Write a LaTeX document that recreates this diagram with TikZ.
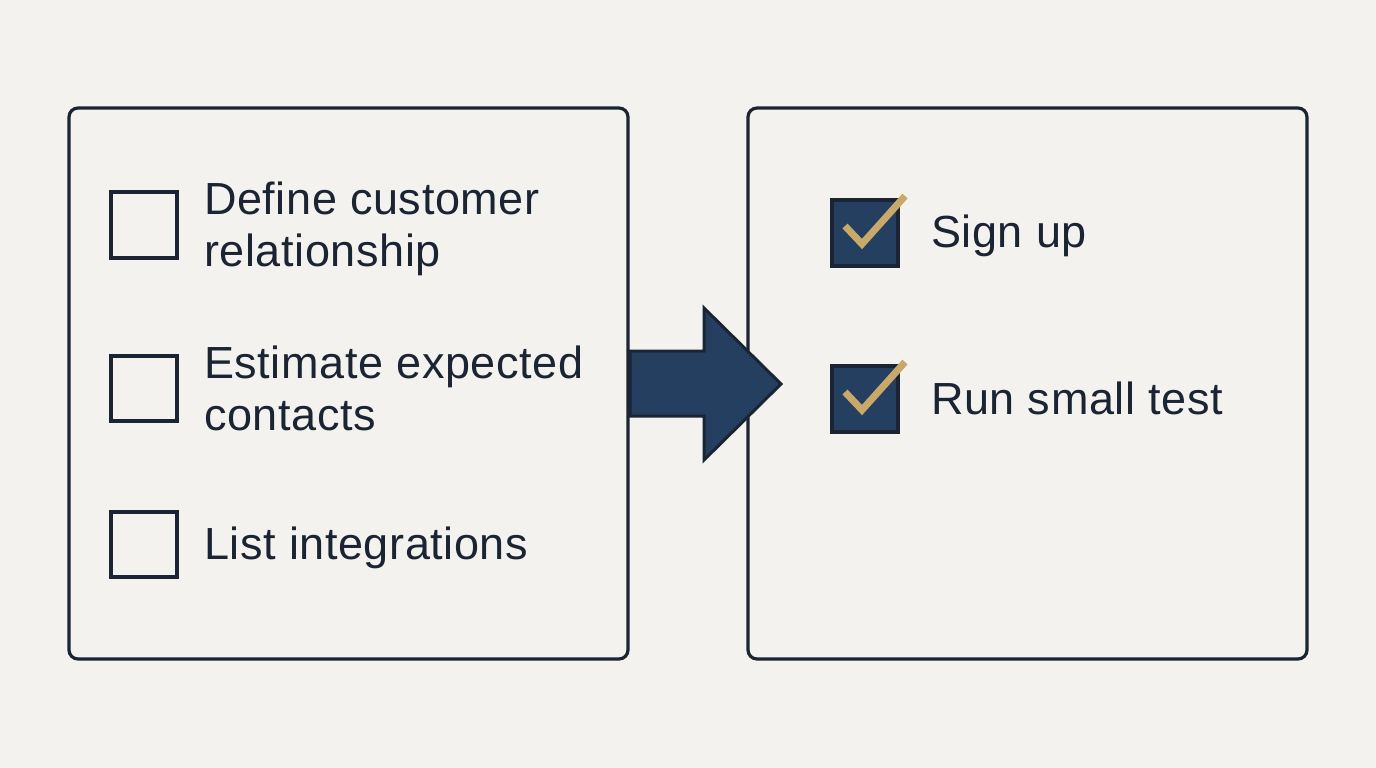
\documentclass[tikz,border=0pt]{standalone}
\usepackage{fontspec}
\setmainfont{Liberation Sans}[LetterSpace=1.3]
\definecolor{bg}{HTML}{F3F2EE}
\definecolor{ink}{HTML}{1B2433}
\definecolor{navy}{HTML}{253F60}
\definecolor{gold}{HTML}{C9A96A}
\tikzset{
  panel/.style={draw=ink, line width=3.2pt, rounded corners=9pt},
  cbox/.style={draw=ink, line width=3.2pt},
  dbox/.style={draw=ink, fill=navy, line width=3.2pt},
  tick/.style={draw=gold, line width=7pt},
  lbl/.style={anchor=base west, inner sep=0pt, font=\fontsize{45}{52}\selectfont, text=ink, align=left},
}
\begin{document}
\begin{tikzpicture}[x=1pt,y=-1pt]
\fill[bg] (0,0) rectangle (1376,768);
\useasboundingbox (0,0) rectangle (1376,768);
% panels
\draw[panel] (69,108) rectangle (628,659);
\draw[panel] (748,108) rectangle (1307,659);
% left checkboxes
\draw[cbox] (111,192) rectangle (177,258);
\draw[cbox] (111,356) rectangle (177,421);
\draw[cbox] (111,512) rectangle (177,577);
\node[lbl] (t1) at (204,214) {Define customer};
\node[lbl] (t1b) at (204,266) {relationship};
\node[lbl] (t2) at (204,378) {Estimate expected};
\node[lbl] (t2b) at (204,430) {contacts};
\node[lbl] (t3) at (204,559) {List integrations};
% arrow
\draw[draw=ink, fill=navy, line width=3pt, line join=miter]
  (630,351) -- (704,351) -- (704,308) -- (781,384) -- (704,460) -- (704,416) -- (630,416) -- cycle;
% right checked boxes
\draw[dbox] (832,200) rectangle (898,266);
\draw[tick] (845,226) -- (862,244) -- (905,196);
\draw[dbox] (832,366) rectangle (898,432);
\draw[tick] (845,392) -- (862,410) -- (905,362);
\node[lbl] (r1) at (931,247) {Sign up};
\node[lbl] (r2) at (931,414) {Run small test};
\end{tikzpicture}
\end{document}
